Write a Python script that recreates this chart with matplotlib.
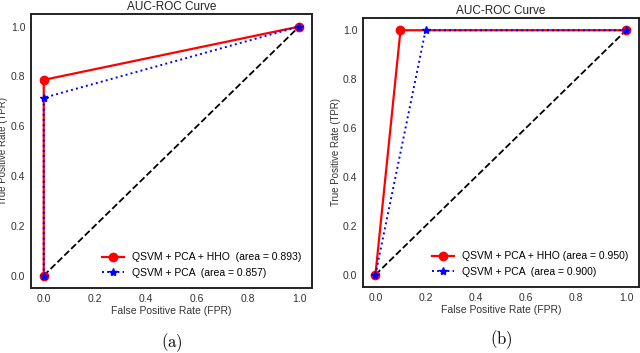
import matplotlib.pyplot as plt

plt.rcParams['font.family'] = ['Liberation Sans', 'DejaVu Sans']
plt.rcParams['mathtext.fontset'] = 'cm'

# panel (a)
fpr_a_hho = [0.0, 0.0, 1.0]
tpr_a_hho = [0.0, 0.786, 1.0]
fpr_a_pca = [0.0, 0.0, 1.0]
tpr_a_pca = [0.0, 0.714, 1.0]
labels_a = ["QSVM + PCA + HHO  (area = 0.893)", "QSVM + PCA  (area = 0.857)"]

# panel (b)
fpr_b_hho = [0.0, 0.1, 1.0]
tpr_b_hho = [0.0, 1.0, 1.0]
fpr_b_pca = [0.0, 0.2, 1.0]
tpr_b_pca = [0.0, 1.0, 1.0]
labels_b = ["QSVM + PCA + HHO (area = 0.950)", "QSVM + PCA  (area = 0.900)"]

ticks = [0.0, 0.2, 0.4, 0.6, 0.8, 1.0]

fig = plt.figure(figsize=(6.4, 3.53), dpi=100)
ax1 = fig.add_axes([0.0484, 0.184, 0.439, 0.776])
ax2 = fig.add_axes([0.567, 0.187, 0.431, 0.762])

panels = [
    (ax1, fpr_a_hho, tpr_a_hho, fpr_a_pca, tpr_a_pca, labels_a, "(a)", -0.2),
    (ax2, fpr_b_hho, tpr_b_hho, fpr_b_pca, tpr_b_pca, labels_b, "(b)", -0.197),
]

for ax, fh, th, fp, tp, labs, cap, cy in panels:
    ax.plot([0, 1], [0, 1], "k--", lw=1.3)
    ax.plot(fh, th, "-", color="red", lw=1.6, marker="o", ms=6, label=labs[0])
    ax.plot(fp, tp, ":", color="blue", lw=1.4, marker="*", ms=6, label=labs[1])
    ax.set_xlim(-0.05, 1.05)
    ax.set_ylim(-0.05, 1.05)
    ax.set_xticks(ticks)
    ax.set_yticks(ticks)
    ax.tick_params(length=0, labelsize=7.5, colors="#333333", pad=4)
    for s in ax.spines.values():
        s.set_linewidth(1.4)
        s.set_color("#222222")
    ax.set_title("AUC-ROC Curve", fontsize=8.5, color="#222222", pad=3)
    ax.set_xlabel("False Positive Rate (FPR)", fontsize=7.5, color="#333333", labelpad=2)
    ax.set_ylabel("True Positive Rate (TPR)", fontsize=7, color="#333333")
    ax.yaxis.set_label_coords(-0.08, 0.5)
    ax.legend(loc="lower right", frameon=False, fontsize=7.5, handlelength=2.1,
              borderaxespad=0.6)
    ax.text(0.5, cy, r"$\mathrm{" + cap + "}$", transform=ax.transAxes,
            ha="center", va="center", fontsize=12)

fig.savefig("out.png", dpi=100)
